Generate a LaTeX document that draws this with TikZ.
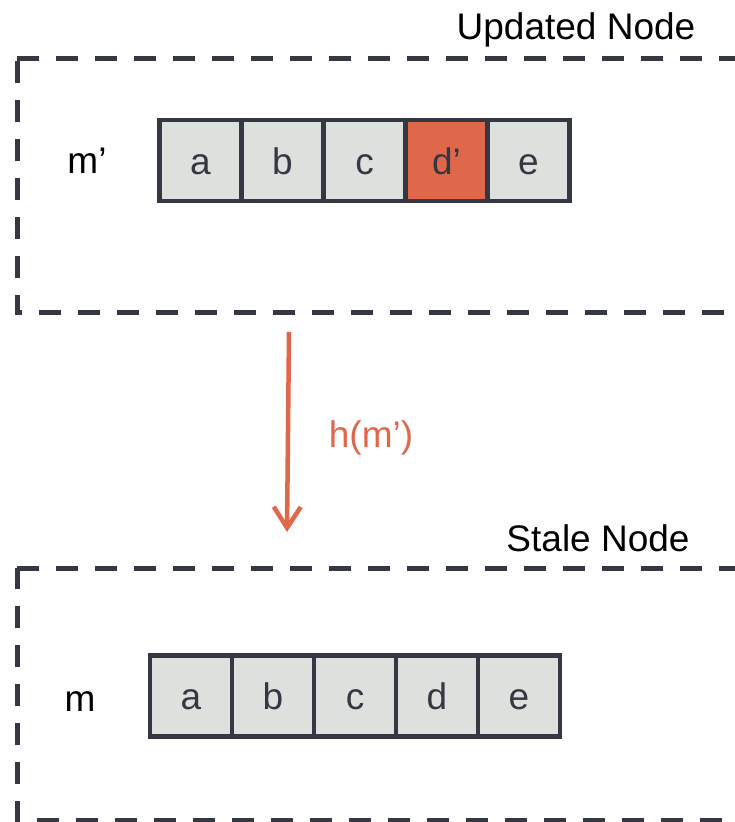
\documentclass[tikz,border=0pt]{standalone}
\usepackage{fontspec}
\setmainfont{Liberation Sans}
\usetikzlibrary{arrows.meta}
\definecolor{ink}{HTML}{353842}
\definecolor{cellgrey}{HTML}{DDE1DE}
\definecolor{accent}{HTML}{E0684A}
\tikzset{
  frame/.style={draw=ink, line width=5pt, dash pattern=on 22pt off 17pt},
  cell/.style={draw=ink, fill=cellgrey, line width=4.5pt, minimum width=82pt, minimum height=81pt,
    inner sep=0pt, outer sep=0pt, font=\fontsize{37}{40}\selectfont, text=ink,
    text height=27pt, text depth=0pt},
  hot/.style={cell, fill=accent},
  label/.style={font=\fontsize{37}{40}\selectfont, text=black, inner sep=0pt},
  capline/.style={text height=27pt, text depth=0pt},
  flow/.style={draw=accent, line width=4.5pt, -{Straight Barb[length=21pt, width=27pt, line width=4.5pt]}}
}
\begin{document}
\begin{tikzpicture}[x=1pt, y=-1pt]
  \useasboundingbox (0,0) rectangle (735,822);
  \clip (0,0) rectangle (735,822);

  % upper group: updated node
  \draw[frame] (17,58) -- (770,58) -- (770,312) -- (17,312) -- cycle;
  \node[label, anchor=base] (tUp) at (576,39) {Updated Node};
  \node[label, capline] (mp) at (87,160) {m’};
  \node[cell] (ua) at (200.5,160.5) {a};
  \node[cell] (ub) at (282.5,160.5) {b};
  \node[cell] (uc) at (364.5,160.5) {c};
  \node[hot]  (ud) at (446.5,160.5) {d’};
  \node[cell] (ue) at (528.5,160.5) {e};

  % lower group: stale node
  \draw[frame] (17,568) -- (770,568) -- (770,820) -- (17,820) -- cycle;
  \node[label, anchor=base] (tSt) at (598,551) {Stale Node};
  \node[label, capline] (m) at (80,698) {m};
  \node[cell] (sa) at (191,696) {a};
  \node[cell] (sb) at (273,696) {b};
  \node[cell] (sc) at (355,696) {c};
  \node[cell] (sd) at (437,696) {d};
  \node[cell] (se) at (519,696) {e};

  % hash link
  \coordinate (h0) at (289,332);
  \coordinate (h1) at (287,532);
  \draw[flow] (h0) -- (h1);
  \node[label, text=accent] (hm) at (371,438) {h(m’)};
\end{tikzpicture}
\end{document}
